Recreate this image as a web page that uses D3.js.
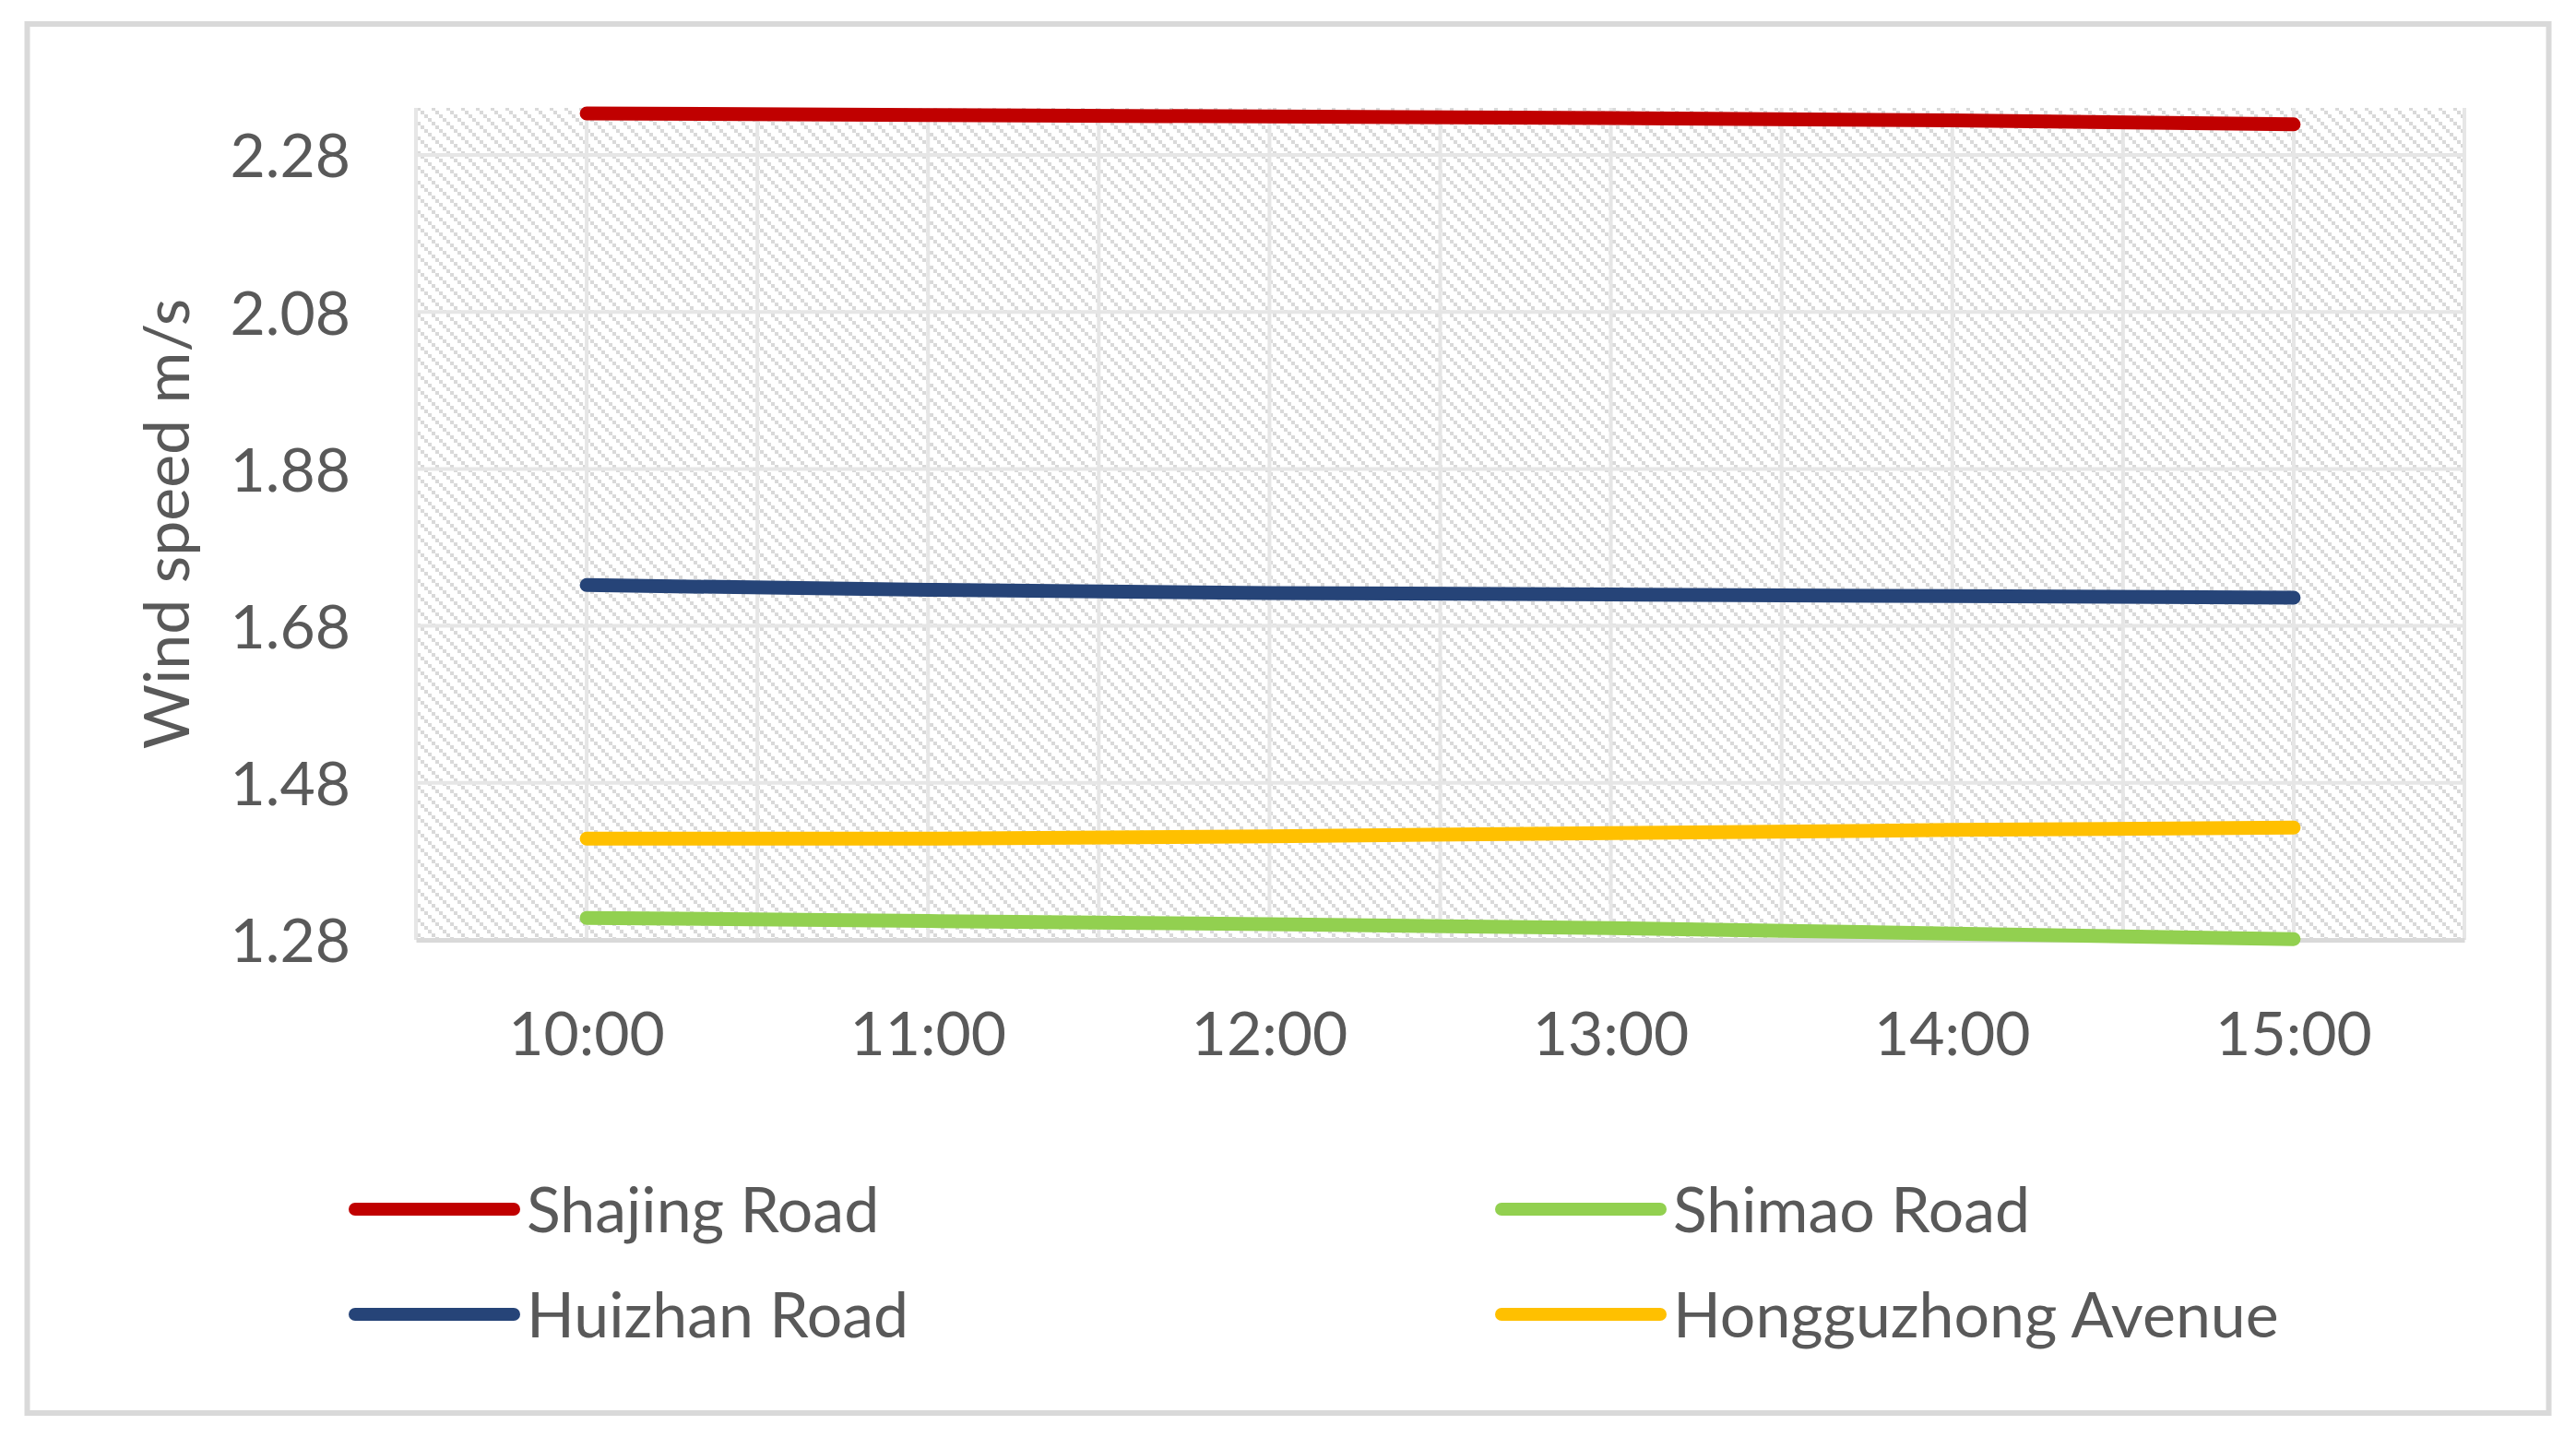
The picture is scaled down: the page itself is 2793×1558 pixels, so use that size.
<!DOCTYPE html>
<html>
<head>
<meta charset="utf-8">
<script src="https://cdn.jsdelivr.net/npm/d3@7"></script>
<style>
  body { margin: 0; background: #fff; }
  text { font-family: Lato, "Open Sans", sans-serif; fill: #595959; }
</style>
</head>
<body>
<script>
const times = ["10:00", "11:00", "12:00", "13:00", "14:00", "15:00"];
const shajing = [2.333, 2.331, 2.329, 2.327, 2.324, 2.319];
const huizhan = [1.732, 1.726, 1.722, 1.720, 1.718, 1.716];
const shimao = [1.308, 1.304, 1.300, 1.295, 1.288, 1.281];
const hongguzhong = [1.409, 1.409, 1.412, 1.416, 1.420, 1.423];
const yTicks = [1.28, 1.48, 1.68, 1.88, 2.08, 2.28];
const seriesNames = ["Shajing Road", "Shimao Road", "Huizhan Road", "Hongguzhong Avenue"];

const w = 2793;
const h = 1558;
const plot = { left: 451, right: 2672, top: 117, bottom: 1019 };

const series = [
  { name: seriesNames[0], values: shajing, color: "#C00000" },
  { name: seriesNames[1], values: shimao, color: "#92D050" },
  { name: seriesNames[2], values: huizhan, color: "#264478" },
  { name: seriesNames[3], values: hongguzhong, color: "#FFC000" },
];

const svg = d3.select("body").append("svg").attr("width", w).attr("height", h);

// hatched plot background (dotted downward diagonals)
const pat = svg.append("defs").append("pattern")
  .attr("id", "hatch")
  .attr("patternUnits", "userSpaceOnUse")
  .attr("width", 16).attr("height", 16);
pat.append("rect").attr("width", 16).attr("height", 16).attr("fill", "#fff");
[0, 4, 8, 12].forEach((k) => {
  pat.append("rect").attr("x", k).attr("y", k).attr("width", 4).attr("height", 4).attr("fill", "#d9d9d9");
});

// outer frame
svg.append("rect")
  .attr("x", 29.5).attr("y", 26)
  .attr("width", 2734).attr("height", 1506)
  .attr("fill", "none").attr("stroke", "#d9d9d9").attr("stroke-width", 6);

const xScale = d3.scaleBand().domain(times).range([plot.left, plot.right]);
const yScale = d3.scaleLinear().domain([1.28, 2.34]).range([plot.bottom, plot.top]);
const xPos = (t) => xScale(t) + xScale.bandwidth() / 2;

svg.append("rect")
  .attr("x", plot.left).attr("y", plot.top)
  .attr("width", plot.right - plot.left).attr("height", plot.bottom - plot.top)
  .attr("fill", "url(#hatch)");

// gridlines
const vLines = [];
times.forEach((t) => { vLines.push(xScale(t)); vLines.push(xPos(t)); });
vLines.push(plot.right);
svg.append("g").selectAll("line").data(vLines).enter().append("line")
  .attr("x1", (d) => d).attr("x2", (d) => d)
  .attr("y1", plot.top).attr("y2", plot.bottom)
  .attr("stroke", "#e6e6e6").attr("stroke-width", 4);

svg.append("g").selectAll("line").data(yTicks.slice(1)).enter().append("line")
  .attr("x1", plot.left).attr("x2", plot.right)
  .attr("y1", (d) => yScale(d)).attr("y2", (d) => yScale(d))
  .attr("stroke", "#e6e6e6").attr("stroke-width", 4);

// axes
const xAxis = d3.axisBottom(xScale).tickSize(0).tickSizeOuter(0);
const gx = svg.append("g")
  .attr("transform", "translate(0," + plot.bottom + ")")
  .call(xAxis);
gx.select(".domain").attr("stroke", "#d9d9d9").attr("stroke-width", 5);
gx.selectAll("text")
  .attr("y", 125).attr("dy", 0)
  .style("font-size", "66px").style("font-family", "Lato").attr("fill", "#595959");

const yAxis = d3.axisLeft(yScale).tickValues(yTicks).tickFormat(d3.format(".2f")).tickSize(0).tickPadding(71);
const gy = svg.append("g")
  .attr("transform", "translate(" + plot.left + ",0)")
  .call(yAxis);
gy.select(".domain").remove();
gy.selectAll("text")
  .attr("dy", "0.36em")
  .style("font-size", "66px").style("font-family", "Lato").attr("fill", "#595959");

svg.append("text")
  .attr("transform", "translate(205," + 568 + ") rotate(-90)")
  .attr("text-anchor", "middle")
  .style("font-size", "68px")
  .text("Wind speed m/s");

// lines
const line = d3.line()
  .x((d, i) => xPos(times[i]))
  .y((d) => yScale(d));

svg.append("g").selectAll("path").data(series).enter().append("path")
  .attr("d", (d) => line(d.values))
  .attr("fill", "none")
  .attr("stroke", (d) => d.color)
  .attr("stroke-width", 15)
  .attr("stroke-linecap", "round")
  .attr("stroke-linejoin", "round");

// legend
const legendX = [385, 1628];
const legendY = [1311, 1425];
const lg = svg.append("g").selectAll("g").data(series).enter().append("g")
  .attr("transform", (d, i) => "translate(" + legendX[i % 2] + "," + legendY[Math.floor(i / 2)] + ")");
lg.append("line")
  .attr("x1", 0).attr("x2", 172)
  .attr("stroke", (d) => d.color)
  .attr("stroke-width", 14)
  .attr("stroke-linecap", "round");
lg.append("text")
  .attr("x", 186).attr("y", 25)
  .style("font-size", "68px")
  .text((d) => d.name);
</script>
</body>
</html>
